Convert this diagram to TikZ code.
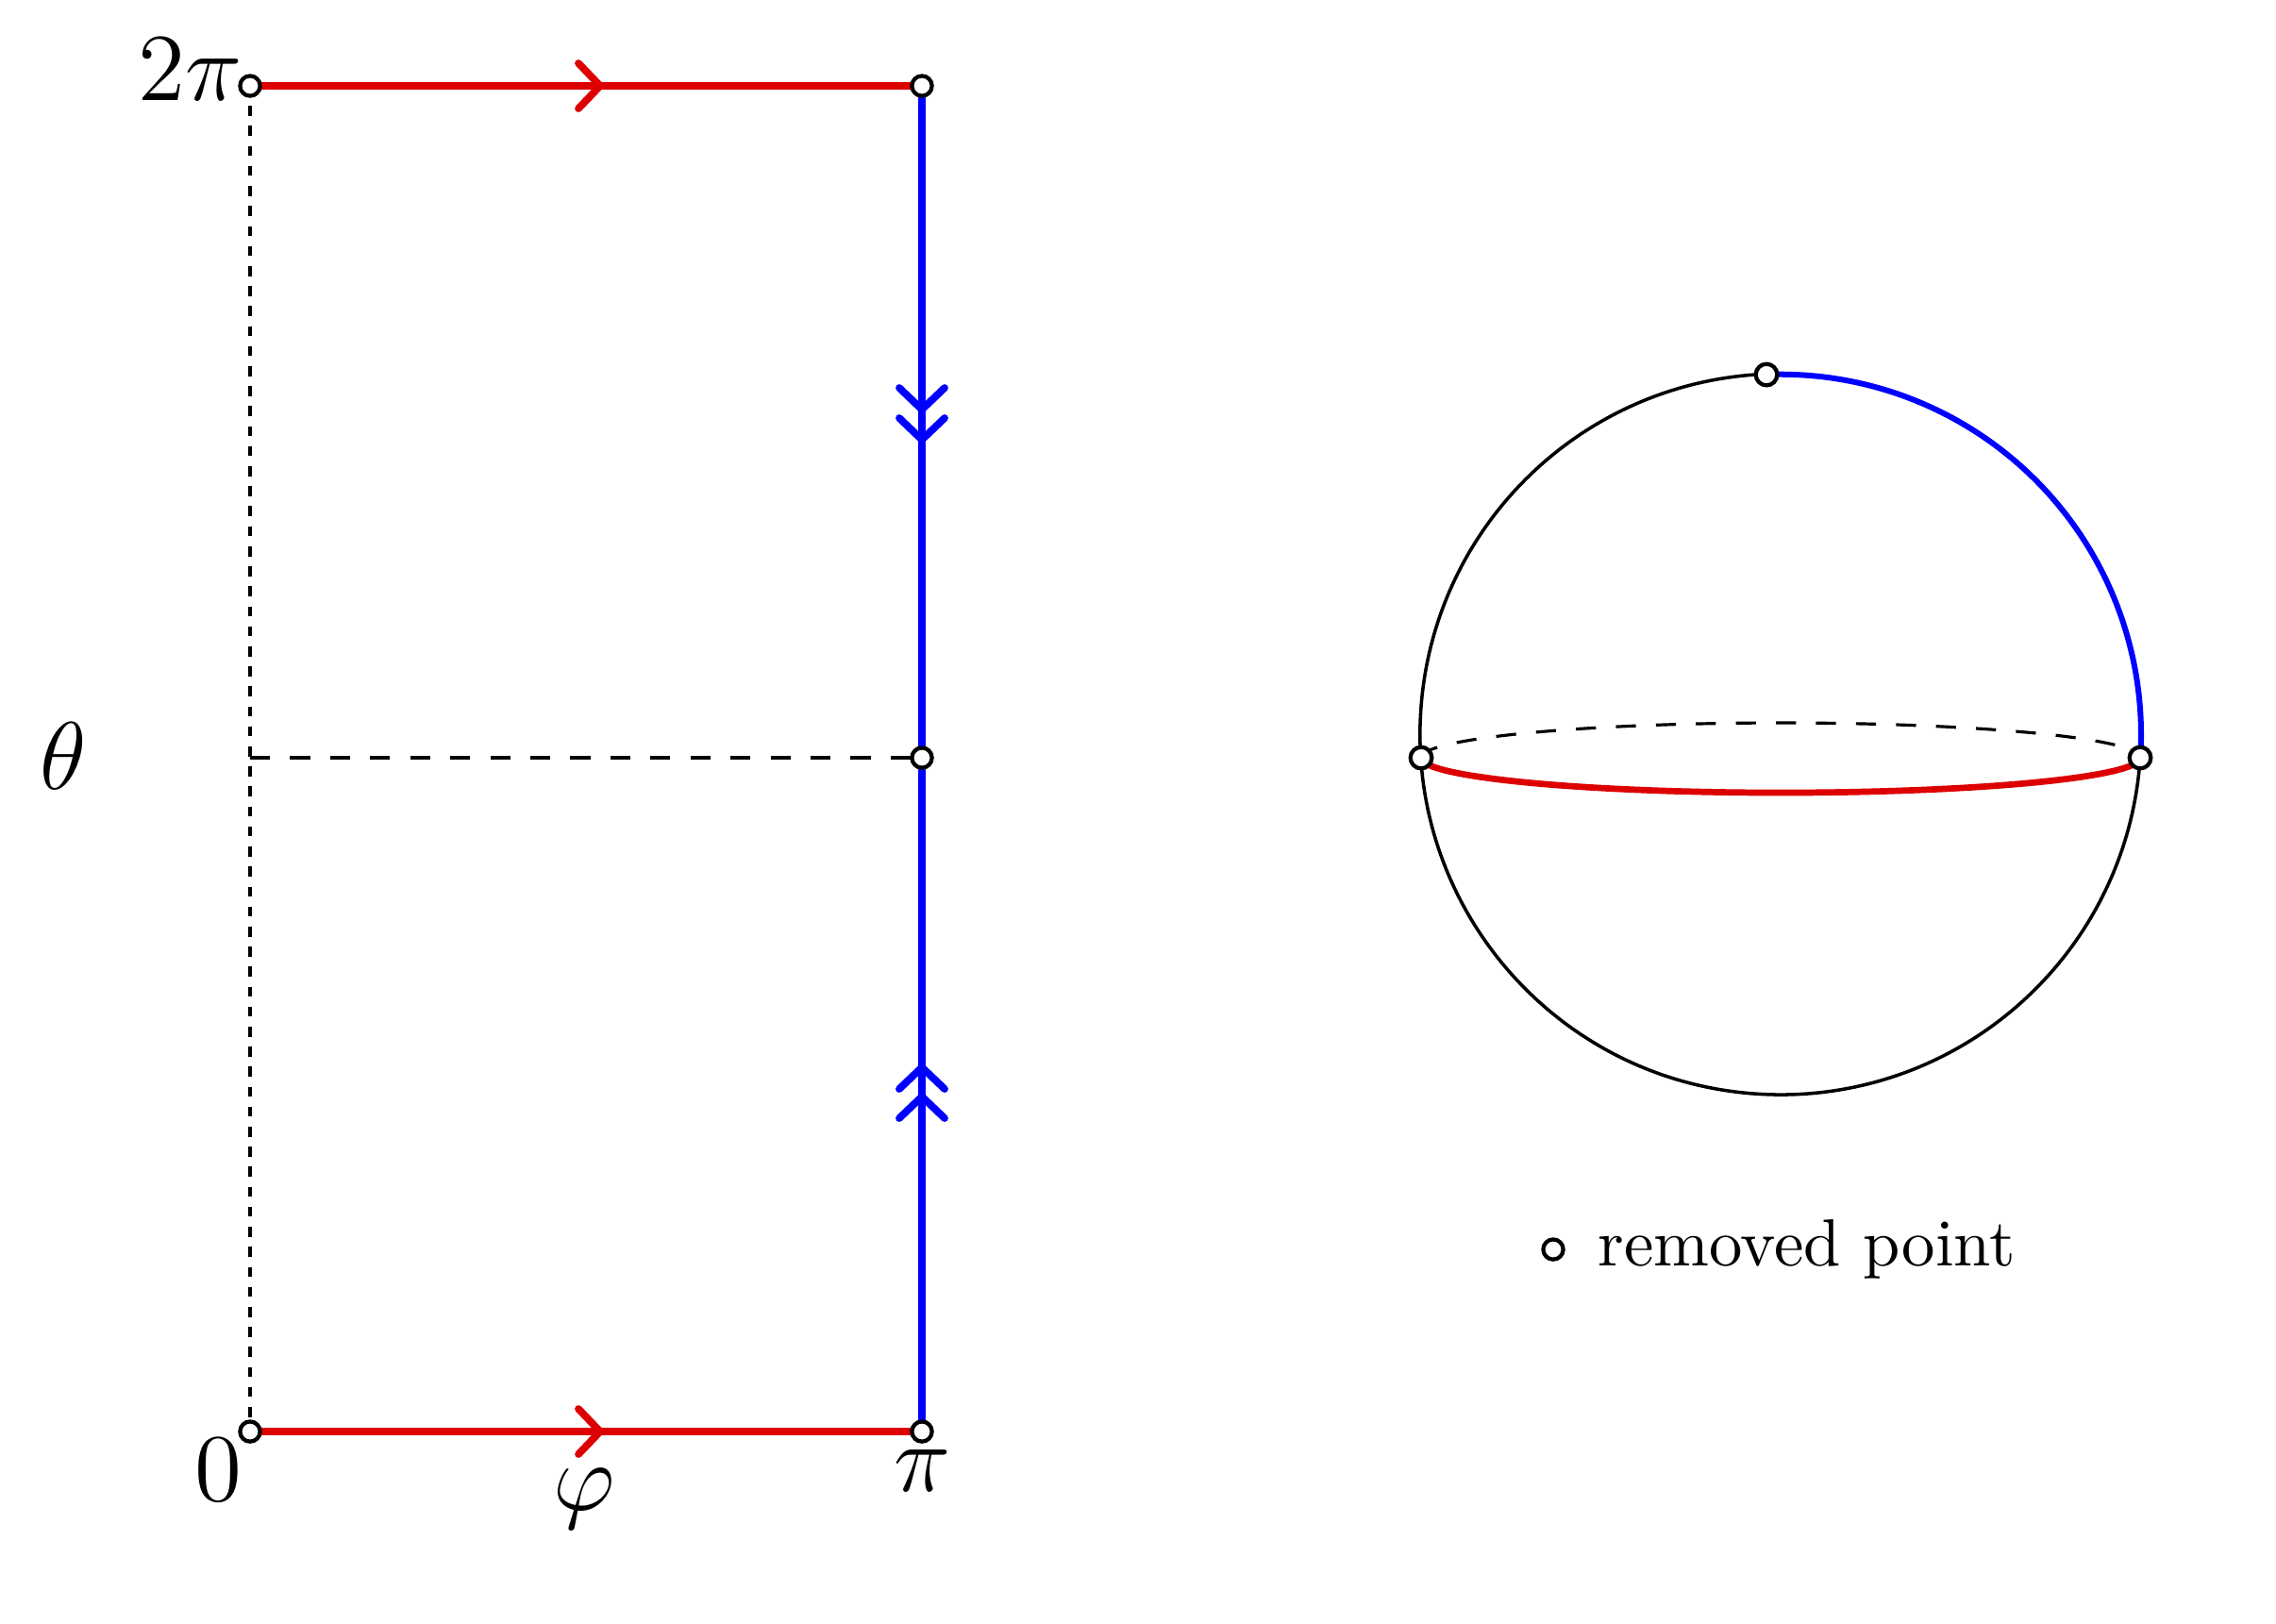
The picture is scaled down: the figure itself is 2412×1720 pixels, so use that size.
\documentclass[tikz,border=0pt]{standalone}
\usepackage{tikz}
\definecolor{myred}{RGB}{221,0,0}
\definecolor{myblue}{RGB}{0,0,255}
\tikzset{
  thickred/.style={myred, line width=1.1pt},
  thickblue/.style={myblue, line width=1.1pt},
  chev/.style={line width=1.1pt, line cap=round, line join=miter},
  pt/.style={circle, draw=black, fill=white, line width=0.6pt, inner sep=0pt, minimum size=3pt},
  finedash/.style={line width=0.45pt, dash pattern=on 1.5pt off 1.5pt},
  normdash/.style={line width=0.45pt, dash pattern=on 3pt off 3pt},
  lab/.style={inner sep=0pt, font=\Large}
}
\begin{document}
\begin{tikzpicture}[x=0.14144pt, y=-0.14144pt]
\useasboundingbox (0,0) rectangle (2412,1720);
% corners
\coordinate (A) at (265,1517);
\coordinate (B) at (977,1517);
\coordinate (C) at (977,91);
\coordinate (D) at (265,91);
\coordinate (ML) at (265,803);
\coordinate (MR) at (977,803);
% dashed lines
\draw[finedash] (D) -- (A);
\draw[normdash] (ML) -- (MR);
% red edges
\draw[thickred] (D) -- (C);
\draw[thickred] (A) -- (B);
\draw[thickred, chev] (613,67) -- (636,91) -- (613,115);
\draw[thickred, chev] (613,1493) -- (636,1517) -- (613,1541);
% blue edge
\draw[thickblue] (C) -- (B);
\draw[thickblue, chev] (953,411) -- (977,434) -- (1001,411);
\draw[thickblue, chev] (953,443) -- (977,466) -- (1001,443);
\draw[thickblue, chev] (953,1154) -- (977,1131) -- (1001,1154);
\draw[thickblue, chev] (953,1185) -- (977,1162) -- (1001,1185);
% removed points
\node[pt] (pA) at (A) {};
\node[pt] (pB) at (B) {};
\node[pt] (pC) at (C) {};
\node[pt] (pD) at (D) {};
\node[pt] (pM) at (MR) {};
% labels
\node[lab, anchor=base east] (l2pi) at (258,106) {$2\pi$};
\node[lab, anchor=base] (l0) at (231,1590) {$0$};
\node[lab, anchor=base] (lpi) at (978,1580) {$\pi$};
\node[lab, anchor=base] (lphi) at (619,1600) {$\varphi$};
\node[lab] (ltheta) at (67,801) {$\theta$};
% sphere
\coordinate (O) at (1887,778);
\coordinate (SL) at (1506,803);
\coordinate (SR) at (2268,803);
\coordinate (ST) at (1872,397);
\draw[line width=0.5pt] (SR) arc[start angle=3.75, end angle=267.75, radius=382];
\draw[myblue, line width=0.85pt] (ST) arc[start angle=267.75, end angle=363.75, radius=382];
\draw[normdash] (SL) arc[start angle=180, end angle=360, x radius=381, y radius=37];
\draw[myred, line width=0.95pt] (SL) arc[start angle=180, end angle=0, x radius=381, y radius=37];
\node[pt, minimum size=3.2pt] (sL) at (SL) {};
\node[pt, minimum size=3.2pt] (sR) at (SR) {};
\node[pt, minimum size=3.2pt] (sT) at (ST) {};
% legend
\node[pt] (leg) at (1646,1324) {};
\node[anchor=base west, inner sep=0pt] (legtext) at (1692,1341) {removed point};
\end{tikzpicture}
\end{document}
